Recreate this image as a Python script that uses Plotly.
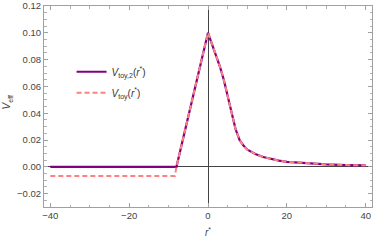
import plotly.graph_objects as go

# Data
r_toy2 = [-40, -8, 0, 1, 2, 3, 4, 5, 6, 7, 8, 9, 10, 12, 14, 16, 18, 20, 25, 30, 35, 40]
v_toy2 = [0.0, 0.0, 0.100, 0.092, 0.084, 0.075, 0.065, 0.053, 0.040, 0.028, 0.020, 0.0158, 0.0128,
          0.0095, 0.0073, 0.0057, 0.0046, 0.0037, 0.0025, 0.0018, 0.0013, 0.0010]

r_toy = [-40, -8.4, -8.0, 0, 1, 2, 3, 4, 5, 6, 7, 8, 9, 10, 12, 14, 16, 18, 20, 25, 30, 35, 40]
v_toy = [-0.0068, -0.0068, 0.0, 0.100, 0.092, 0.084, 0.075, 0.065, 0.053, 0.040, 0.028, 0.020, 0.0158,
         0.0128, 0.0095, 0.0073, 0.0057, 0.0046, 0.0037, 0.0025, 0.0018, 0.0013, 0.0010]

x_ticks = [-40, -20, 0, 20, 40]
y_ticks = [-0.02, 0.0, 0.02, 0.04, 0.06, 0.08, 0.10, 0.12]
y_ticklabels = ["\u22120.02", "0.00", "0.02", "0.04", "0.06", "0.08", "0.10", "0.12"]
x_ticklabels = ["\u221240", "\u221220", "0", "20", "40"]

name_toy2 = "<i>V</i><sub>toy,2</sub>(<i>r</i><sup>*</sup>)"
name_toy = "<i>V</i><sub>toy</sub>(<i>r</i><sup>*</sup>)"

fig = go.Figure()
fig.add_trace(go.Scatter(x=r_toy2, y=v_toy2, mode="lines", name=name_toy2, legendgroup="a",
                         line=dict(color="rgb(128,0,128)", width=2.2)))
fig.add_trace(go.Scatter(x=r_toy, y=v_toy, mode="lines", name=name_toy, legendgroup="b",
                         line=dict(color="rgb(255,128,128)", width=2, dash="5px,3px")))

axis_common = dict(
    showgrid=False, showline=True, linecolor="#a0a0a0", linewidth=1, mirror="ticks",
    ticks="inside", ticklen=4, tickcolor="#a0a0a0", tickwidth=1,
    tickfont=dict(family="Liberation Sans, Arial", size=9.5, color="#444"),
    zeroline=True, zerolinecolor="#444", zerolinewidth=1, automargin=False,
)

fig.update_xaxes(range=[-41.6, 41.6], tickvals=x_ticks, ticktext=x_ticklabels,
                 minor=dict(dtick=5, ticks="inside", ticklen=2.5, tickcolor="#b0b0b0", showgrid=False),
                 **axis_common)
fig.update_yaxes(range=[-0.03, 0.12], tickvals=y_ticks, ticktext=y_ticklabels,
                 minor=dict(dtick=0.005, tick0=0, ticks="inside", ticklen=2.5, tickcolor="#b0b0b0", showgrid=False),
                 **axis_common)

fig.add_annotation(text="<i>r</i><sup>*</sup>", xref="paper", yref="paper", x=0.5, y=-0.125,
                   xanchor="center", yanchor="middle", showarrow=False,
                   font=dict(family="Liberation Sans, Arial", size=10, color="#444"))
fig.add_annotation(text="<i>V</i><sub>eff</sub>", xref="paper", yref="paper", x=-0.11, y=0.52,
                   xanchor="center", yanchor="middle", showarrow=False, textangle=-90,
                   font=dict(family="Liberation Sans, Arial", size=10, color="#444"))

fig.update_layout(
    width=374, height=240,
    margin=dict(l=44, r=2, t=6, b=33),
    paper_bgcolor="white", plot_bgcolor="white",
    showlegend=True,
    legend=dict(x=0.084, y=0.745, xanchor="left", yanchor="top", bgcolor="rgba(0,0,0,0)",
                font=dict(family="Liberation Sans, Arial", size=10, color="#333"),
                traceorder="grouped", tracegroupgap=2),
)

fig.write_html("out.html", config={"displayModeBar": False},
               post_script="document.body.style.margin='0';")
